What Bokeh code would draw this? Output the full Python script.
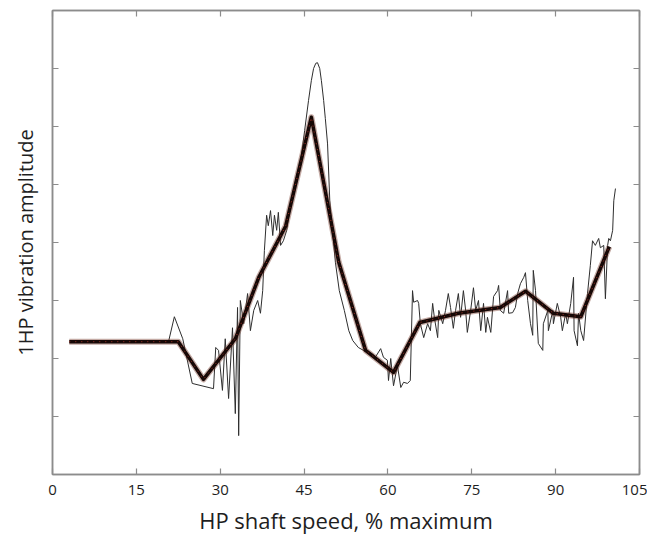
from bokeh.plotting import figure
from bokeh.models import Range1d, LinearAxis, FixedTicker
from bokeh.embed import file_html
from bokeh.resources import INLINE

# Smoothed (thick) trend line
trend_x = [3.0, 22.5, 27.0, 32.7, 36.9, 41.7, 46.3, 51.2, 56.0, 61.0, 65.7, 72.6, 80.1, 84.6, 89.6, 94.5, 99.6]
trend_y = [2.29, 2.29, 1.64, 2.34, 3.40, 4.28, 6.16, 3.66, 2.14, 1.76, 2.62, 2.78, 2.88, 3.16, 2.78, 2.72, 3.93]

# Raw (thin, noisy) measurement
raw_x = [3.0, 20.8, 21.8, 23.3, 25.0, 28.8, 29.2, 29.7, 30.4, 30.9, 31.5, 32.2, 32.7, 33.1, 33.3, 33.6,
         34.2, 34.9, 35.4, 36.0, 36.7, 37.2, 37.6, 37.9, 38.3, 38.6, 39.0, 39.4, 39.7, 40.1, 40.4, 40.8,
         41.3, 41.9, 42.4, 42.9, 43.7, 44.4, 45.1, 45.8, 46.3, 46.7, 47.1, 47.4, 47.8, 48.1, 48.5, 48.8,
         49.2, 49.6, 50.6, 51.3, 52.2, 53.0, 53.7, 54.7, 56.0, 56.9, 57.8, 58.7, 59.2,
         59.9, 60.1, 60.5, 61.0, 61.7, 62.3, 62.8, 63.5, 64.0, 64.4, 64.6, 65.3, 65.5, 65.8, 66.4, 67.1,
         67.6, 68.0, 68.3, 68.9, 69.1, 69.8, 70.3, 70.8, 71.2, 71.7, 72.1, 72.6, 73.0, 73.5, 73.9, 74.2,
         74.8, 75.3, 75.7, 76.2, 76.6, 77.1, 77.5, 77.8, 78.4, 78.9, 79.6, 79.8, 80.1, 80.7, 81.4, 81.6,
         82.3, 82.8, 83.2, 83.7, 84.3, 84.6, 85.0, 85.5, 85.9, 86.0, 86.4, 86.9, 87.7, 87.8, 88.6, 88.7,
         89.5, 89.6, 90.3, 90.9, 91.2, 91.8, 92.1, 92.7, 93.2, 93.3, 93.9, 94.1, 94.5, 95.0, 95.7, 96.2,
         96.6, 97.1, 97.7, 98.0, 98.6, 98.9, 99.3, 99.5, 99.8, 100.2, 100.4, 100.7]
raw_y = [2.29, 2.31, 2.72, 2.34, 1.57, 1.48, 2.19, 2.14, 1.45, 2.34, 1.31, 2.53, 1.05, 2.88, 0.67, 3.00,
         2.60, 3.12, 2.48, 2.83, 3.00, 2.78, 3.17, 3.86, 4.47, 4.29, 4.55, 4.12, 4.47, 4.21, 4.52, 3.95,
         4.03, 4.21, 4.55, 4.81, 5.16, 5.41, 5.93, 6.45, 6.79, 7.00, 7.09, 7.10, 7.00, 6.79, 6.45, 6.14,
         5.70, 4.72, 3.66, 3.17, 2.83, 2.48, 2.31, 2.19, 2.12, 2.10, 2.03, 2.17, 2.02,
         1.97, 1.62, 2.00, 1.53, 1.88, 1.50, 1.59, 1.57, 1.62, 3.17, 2.97, 3.00, 2.95, 2.60, 2.36, 2.60,
         2.48, 2.95, 2.71, 2.36, 2.83, 2.60, 2.83, 3.12, 2.88, 2.52, 2.83, 3.12, 2.71, 3.17, 2.83, 2.45,
         2.83, 3.22, 2.83, 3.00, 2.48, 2.95, 2.45, 2.71, 2.45, 3.07, 3.17, 3.26, 2.83, 2.78, 3.17, 2.78,
         2.79, 2.88, 3.12, 3.29, 3.40, 3.48, 3.00, 2.60, 2.40, 3.52, 3.17, 2.26, 2.14, 2.60, 2.83, 2.48,
         2.83, 2.60, 2.95, 2.71, 2.48, 2.78, 2.60, 2.95, 3.40, 2.48, 2.22, 2.78, 2.48, 2.31, 3.12, 3.60,
         4.03, 3.95, 4.07, 3.91, 3.95, 3.03, 3.95, 4.07, 4.03, 4.21, 4.72, 4.93]

x_ticks = [0, 15, 30, 45, 60, 75, 90, 105]
y_ticks = [1, 2, 3, 4, 5, 6, 7]

FONT = "Open Sans"
FRAME = "#8c8c8c"
TEXT = "#1e1e1e"

p = figure(frame_width=587, frame_height=464, output_backend="svg", toolbar_location=None,
           x_range=Range1d(0, 105), y_range=Range1d(0, 8),
           min_border_left=52, min_border_right=8, min_border_top=10, min_border_bottom=58)

p.xgrid.visible = False
p.ygrid.visible = False
p.outline_line_color = FRAME
p.outline_line_width = 1.5
p.background_fill_color = "white"
p.border_fill_color = "white"

def style_axis(ax, show_labels):
    ax.axis_line_color = FRAME
    ax.axis_line_width = 1.5
    ax.major_tick_line_color = FRAME
    ax.major_tick_line_width = 1.2
    ax.major_tick_in = 6
    ax.major_tick_out = 0
    ax.minor_tick_line_color = None
    if not show_labels:
        ax.major_label_text_font_size = "0px"
        ax.major_label_standoff = 0

p.xaxis.ticker = FixedTicker(ticks=x_ticks)
p.yaxis.ticker = FixedTicker(ticks=y_ticks)
style_axis(p.xaxis[0], True)
style_axis(p.yaxis[0], False)
p.yaxis.major_label_overrides = {t: "" for t in y_ticks}

p.xaxis.major_label_text_font = FONT
p.xaxis.major_label_text_font_size = "15px"
p.xaxis.major_label_text_color = TEXT
p.xaxis.major_label_standoff = 10
p.xaxis.axis_label = "HP shaft speed, % maximum"
p.xaxis.axis_label_text_font = FONT
p.xaxis.axis_label_text_font_size = "22px"
p.xaxis.axis_label_text_font_style = "normal"
p.xaxis.axis_label_text_color = TEXT
p.xaxis.axis_label_standoff = 7

p.yaxis.axis_label = "1HP vibration amplitude"
p.yaxis.axis_label_text_font = FONT
p.yaxis.axis_label_text_font_size = "20px"
p.yaxis.axis_label_text_font_style = "normal"
p.yaxis.axis_label_text_color = TEXT
p.yaxis.axis_label_standoff = 14

top_ax = LinearAxis(ticker=FixedTicker(ticks=x_ticks))
top_ax.major_label_overrides = {t: "" for t in x_ticks}
style_axis(top_ax, False)
right_ax = LinearAxis(ticker=FixedTicker(ticks=y_ticks))
right_ax.major_label_overrides = {t: "" for t in y_ticks}
style_axis(right_ax, False)
p.add_layout(top_ax, "above")
p.add_layout(right_ax, "right")

# raw trace
p.line(raw_x, raw_y, line_color="#2e2e2e", line_width=1.0)
# smoothed trend: soft brown halo, dark core, red dotted centre
p.line(trend_x, trend_y, line_color="#6b2a1c", line_width=6, line_alpha=0.4, line_join="round")
p.line(trend_x, trend_y, line_color="#160806", line_width=3.5, line_join="round")
p.line(trend_x, trend_y, line_color="#c83a2a", line_width=1, line_dash="1 5", line_alpha=0.8)

open("out.html", "w").write(file_html(p, INLINE))
